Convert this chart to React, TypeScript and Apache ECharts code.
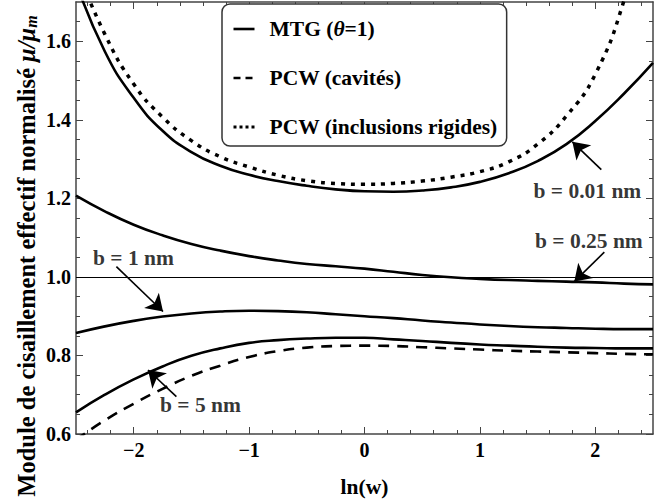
import React, { useEffect, useRef } from "react";
import * as echarts from "echarts";

// ---- data ----
const lnW = [-2.5, -2.25, -2.0, -1.75, -1.5, -1.25, -1.0, -0.75, -0.5, -0.25, 0, 0.25, 0.5, 0.75, 1.0, 1.25, 1.5, 1.75, 2.0, 2.25, 2.5];
const mtgB001 = [1.75, 1.574, 1.456, 1.372, 1.318, 1.283, 1.26, 1.244, 1.232, 1.223, 1.218, 1.217, 1.22, 1.228, 1.242, 1.264, 1.295, 1.338, 1.397, 1.467, 1.545];
const mtgB025 = [1.207, 1.167, 1.133, 1.106, 1.084, 1.067, 1.053, 1.042, 1.033, 1.027, 1.021, 1.013, 1.005, 0.999, 0.995, 0.992, 0.99, 0.988, 0.986, 0.983, 0.981];
const mtgB1 = [0.857, 0.874, 0.888, 0.899, 0.907, 0.912, 0.914, 0.913, 0.91, 0.905, 0.9, 0.895, 0.889, 0.884, 0.879, 0.875, 0.872, 0.87, 0.868, 0.867, 0.867];
const mtgB5 = [0.655, 0.7, 0.739, 0.772, 0.799, 0.818, 0.832, 0.839, 0.843, 0.845, 0.845, 0.841, 0.837, 0.832, 0.828, 0.825, 0.822, 0.82, 0.819, 0.818, 0.818];
const pcwCavites = [0.585, 0.635, 0.677, 0.715, 0.748, 0.774, 0.796, 0.811, 0.82, 0.824, 0.825, 0.824, 0.821, 0.818, 0.815, 0.812, 0.81, 0.808, 0.806, 0.804, 0.803];
const pcwRigides = [1.79, 1.618, 1.491, 1.407, 1.347, 1.306, 1.28, 1.259, 1.245, 1.238, 1.236, 1.238, 1.244, 1.254, 1.268, 1.293, 1.338, 1.41, 1.516, 1.705, 1.98];

const xMajorTicks = [-2, -1, 0, 1, 2];
const xMinorTicks = [-2.4, -2.2, -1.8, -1.6, -1.4, -1.2, -0.8, -0.6, -0.4, -0.2, 0.2, 0.4, 0.6, 0.8, 1.2, 1.4, 1.6, 1.8, 2.2, 2.4];
const yMajorTicks = [0.6, 0.8, 1.0, 1.2, 1.4, 1.6];
const yMinorTicks = [0.65, 0.7, 0.75, 0.85, 0.9, 0.95, 1.05, 1.1, 1.15, 1.25, 1.3, 1.35, 1.45, 1.5, 1.55, 1.65];

const legendNames = ["MTG (θ=1)", "PCW (cavités)", "PCW (inclusions rigides)"];
const annotationTexts = ["b = 0.01 nm", "b = 0.25 nm", "b = 1 nm", "b = 5 nm"];
// annotation anchors, in data units
const annotationAt = [[1.931, 1.219], [1.944, 1.092], [-2.002, 1.048], [-1.422, 0.674]];
const arrowFrom = [[2.052, 1.273], [2.078, 1.063], [-2.15, 1.026], [-1.63, 0.695]];
const arrowTo = [[1.801, 1.344], [1.818, 0.988], [-1.746, 0.912], [-1.876, 0.763]];

const FONT = "Times New Roman, Liberation Serif, DejaVu Serif, serif";
const FRAME = "#444";

const pairs = (ys: number[]) => lnW.map((x, i) => [x, ys[i]]);
const fmtX = (v: number) => (v < 0 ? "\u2212" + Math.abs(v) : String(v));

function frameX(position: "bottom" | "top", ticks: number[], len: number, showLine: boolean, labels: boolean): any {
  return {
    type: "value",
    position,
    min: -2.5,
    max: 2.5,
    axisLine: { show: showLine, onZero: false, lineStyle: { color: FRAME, width: 1.5 } },
    axisTick: { show: true, inside: true, length: len, customValues: ticks, lineStyle: { color: FRAME, width: 1 } },
    axisLabel: labels
      ? { show: true, customValues: xMajorTicks, formatter: fmtX, fontFamily: FONT, fontWeight: "bold", fontSize: 20, color: "#000", margin: 6 }
      : { show: false },
    splitLine: { show: false },
  };
}

function frameY(position: "left" | "right", ticks: number[], len: number, showLine: boolean, labels: boolean): any {
  return {
    type: "value",
    position,
    min: 0.6,
    max: 1.7,
    axisLine: { show: showLine, onZero: false, lineStyle: { color: FRAME, width: 1.5 } },
    axisTick: { show: true, inside: true, length: len, customValues: ticks, lineStyle: { color: FRAME, width: 1 } },
    axisLabel: labels
      ? { show: true, customValues: yMajorTicks, formatter: (v: number) => v.toFixed(1), fontFamily: FONT, fontWeight: "bold", fontSize: 20, color: "#000", margin: 5 }
      : { show: false },
    splitLine: { show: false },
  };
}

export default function App() {
  const ref = useRef<HTMLDivElement>(null);

  useEffect(() => {
    document.body.style.margin = "0";
    if (!ref.current) return;
    const chart = echarts.init(ref.current, undefined, { renderer: "svg" });

    const solid = { color: "#000", width: 2.6, type: "solid" as const };

    const option: any = {
      animation: false,
      textStyle: { fontFamily: FONT },
      grid: { left: 76, right: 13, top: 2, bottom: 70, containLabel: false },
      xAxis: [
        {
          ...frameX("bottom", xMajorTicks, 7, true, true),
          name: "ln(w)",
          nameLocation: "middle",
          nameGap: 42,
          nameTextStyle: { fontFamily: FONT, fontWeight: "bold", fontSize: 21.5, color: "#000" },
        },
        frameX("bottom", xMinorTicks, 4, false, false),
        frameX("top", xMajorTicks, 7, true, false),
        frameX("top", xMinorTicks, 4, false, false),
      ],
      yAxis: [
        frameY("left", yMajorTicks, 7, true, true),
        frameY("left", yMinorTicks, 4, false, false),
        frameY("right", yMajorTicks, 7, true, false),
        frameY("right", yMinorTicks, 4, false, false),
      ],
      legend: {
        show: true,
        orient: "vertical",
        left: 222,
        top: 4,
        padding: [13, 9, 7, 10],
        itemGap: 25,
        itemWidth: 21,
        itemHeight: 14,
        backgroundColor: "#fff",
        borderColor: "#333",
        borderWidth: 1.5,
        borderRadius: 8,
        selectedMode: false,
        itemStyle: { opacity: 0 },
        data: [
          { name: legendNames[0], lineStyle: { type: "solid", width: 2.6 } },
          { name: legendNames[1], lineStyle: { type: [7, 5], width: 2.6 } },
          { name: legendNames[2], lineStyle: { type: [3, 3], width: 3 } },
        ],
        formatter: (name: string) =>
          name === legendNames[0] ? "{b|MTG (}{i|θ}{b|=1)}" : "{b|" + name + "}",
        textStyle: {
          fontFamily: FONT,
          fontWeight: "bold",
          fontSize: 21.5,
          padding: [0, 0, 0, 10],
          lineHeight: 24,
          rich: {
            b: { fontFamily: FONT, fontWeight: "bold", fontSize: 21.5, color: "#000", lineHeight: 24 },
            i: { fontFamily: FONT, fontWeight: "bold", fontStyle: "italic", fontSize: 21.5, color: "#000", lineHeight: 24 },
          },
        },
      },
      graphic: [
        {
          type: "text",
          x: 26,
          y: 256,
          rotation: Math.PI / 2,
          style: {
            text: "{a|Module de cisaillement effectif normalisé }{i|μ/μ}{s|m}",
            align: "center",
            verticalAlign: "middle",
            fontFamily: FONT,
            rich: {
              a: { fontFamily: FONT, fontWeight: "bold", fontSize: 24.5, fill: "#000" },
              i: { fontFamily: FONT, fontWeight: "bold", fontStyle: "italic", fontSize: 24.5, fill: "#000" },
              s: { fontFamily: FONT, fontWeight: "bold", fontStyle: "italic", fontSize: 16, fill: "#000", padding: [10, 0, 0, 0] },
            },
          },
        },
      ],
      series: [
        {
          name: legendNames[0],
          type: "line",
          data: pairs(mtgB001),
          smooth: 0.5,
          symbol: "none",
          lineStyle: solid,
          itemStyle: { color: "#000" },
          silent: true,
          z: 3,
        },
        {
          name: legendNames[0],
          type: "line",
          data: pairs(mtgB025),
          smooth: 0.5,
          symbol: "none",
          lineStyle: solid,
          itemStyle: { color: "#000" },
          silent: true,
          z: 3,
          markLine: {
            silent: true,
            symbol: "none",
            label: { show: false },
            lineStyle: { color: "#000", width: 1, type: "solid" },
            data: [{ yAxis: 1 }],
            z: 2,
          },
        },
        {
          name: legendNames[0],
          type: "line",
          data: pairs(mtgB1),
          smooth: 0.5,
          symbol: "none",
          lineStyle: solid,
          itemStyle: { color: "#000" },
          silent: true,
          z: 3,
          markLine: {
            silent: true,
            symbol: ["none", "arrow"],
            symbolSize: 16,
            label: { show: false },
            itemStyle: { color: "#000" },
            lineStyle: { color: "#000", width: 1.6, type: "solid" },
            data: arrowFrom.map((f, i) => [{ coord: f }, { coord: arrowTo[i] }]),
            z: 6,
          },
        },
        {
          name: legendNames[0],
          type: "line",
          data: pairs(mtgB5),
          smooth: 0.5,
          symbol: "none",
          lineStyle: solid,
          itemStyle: { color: "#000" },
          silent: true,
          z: 3,
        },
        {
          name: legendNames[1],
          type: "line",
          data: pairs(pcwCavites),
          smooth: 0.5,
          symbol: "none",
          lineStyle: { color: "#000", width: 2.6, type: [11, 8] },
          itemStyle: { color: "#000" },
          silent: true,
          z: 3,
        },
        {
          name: legendNames[2],
          type: "line",
          data: pairs(pcwRigides),
          smooth: 0.5,
          symbol: "none",
          lineStyle: { color: "#000", width: 3.5, type: [4, 6] },
          itemStyle: { color: "#000" },
          silent: true,
          z: 3,
        },
        {
          name: "annotations",
          type: "scatter",
          symbolSize: 0,
          itemStyle: { color: "#000" },
          silent: true,
          z: 5,
          data: annotationTexts.map((t, i) => ({ name: t, value: annotationAt[i] })),
          label: {
            show: true,
            position: "inside",
            formatter: (p: any) => p.name,
            fontFamily: FONT,
            fontWeight: "bold",
            fontSize: 21.5,
            color: "#000",
            align: "center",
            verticalAlign: "middle",
          },
        },
      ],
    };

    chart.setOption(option);
    return () => chart.dispose();
  }, []);

  return <div ref={ref} style={{ width: 666, height: 504 }} />;
}
